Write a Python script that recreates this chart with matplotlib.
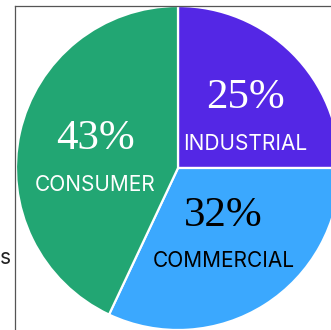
import numpy as np
import matplotlib.pyplot as plt

# fatias do gráfico de pizza (sentido horário a partir do topo)
segmentos = ['INDUSTRIAL', 'COMMERCIAL', 'CONSUMER']
percentuais = [25, 32, 43]
cores = ['#5427E5', '#3BA8FE', '#22A673']
cor_texto = ['white', 'black', 'white']

# ajuste fino do ângulo dos rótulos (graus)
desvio_rotulo = {'INDUSTRIAL': -9.4, 'COMMERCIAL': 0.9, 'CONSUMER': 7.8}

fig = plt.figure(figsize=(3.31, 3.30), dpi=100)
ax = fig.add_axes([0, 0, 1, 1])

# eixo em pixels: centro e raio do gráfico
cx, cy, raio = 178, 162, 162

wedges, _ = ax.pie(percentuais, colors=cores, startangle=90, counterclock=False,
                   radius=raio, center=(cx, cy),
                   wedgeprops=dict(edgecolor='white', linewidth=1.6))

# rótulos: percentual em serifa e nome do segmento embaixo
for w, pct, nome, ct in zip(wedges, percentuais, segmentos, cor_texto):
    meio = np.deg2rad((w.theta1 + w.theta2) / 2 + desvio_rotulo[nome])
    x = cx + 0.513 * raio * np.cos(meio)
    y = cy + 0.513 * raio * np.sin(meio)
    ax.text(x, y + 22, f'{pct}%', ha='center', va='center', color=ct,
            fontsize=31, family='Liberation Serif')
    ax.text(x, y - 24, nome, ha='center', va='center', color=ct,
            fontsize=15, family='Inter')

# moldura do painel
ax.plot([14.5, 14.5], [0, 324.5], color='#555555', lw=0.9, zorder=5, clip_on=False)
ax.plot([14.5, 331], [324.5, 324.5], color='#555555', lw=0.9, zorder=5, clip_on=False)

# pedaço da legenda que fica à esquerda
ax.text(0, 72, 's', ha='left', va='center', color='#222222',
        fontsize=15, family='Inter')

ax.set_xlim(0, 331)
ax.set_ylim(0, 330)
ax.set_aspect('auto')
ax.axis('off')

fig.savefig('out.png', dpi=100)
